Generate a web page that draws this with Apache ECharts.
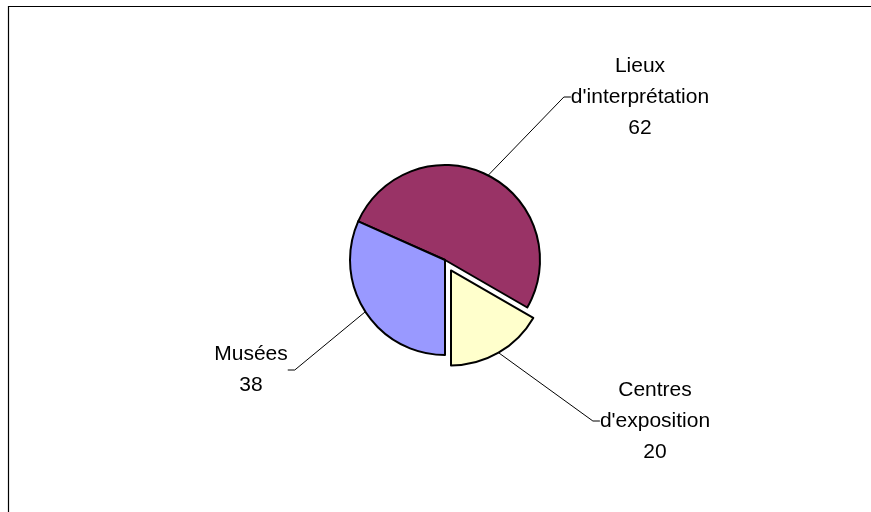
<!DOCTYPE html>
<html>
<head>
<meta charset="utf-8">
<script src="https://cdn.jsdelivr.net/npm/echarts@6/dist/echarts.min.js"></script>
<style>
  html, body { margin: 0; padding: 0; background: #fff; }
  #main { width: 871px; height: 512px; }
</style>
</head>
<body>
<div id="main"></div>
<script>
// données du graphique
var categories = ["Lieux d'interprétation", "Centres d'exposition", "Musées"];
var values = [62, 20, 38];
var colors = ["#993366", "#ffffcc", "#9999ff"];
var exploded = [false, true, false];
// position du centre de chaque étiquette (px)
var labelPos = [[640, 97], [655, 421], [251, 370]];

var pieCenter = [445, 260];
var pieRadius = 95;
var explodeOffset = 12;
var startAngle = 156;

var chart = echarts.init(document.getElementById("main"));

// angle médian de la part éclatée, pour décaler son centre
function explodedCenter() {
  var total = values.reduce(function (a, b) { return a + b; }, 0);
  var acc = 0;
  for (let i = 0; i < values.length; i++) {
    if (exploded[i]) {
      var mid = startAngle - ((acc + values[i] / 2) / total) * 360;
      var rad = (mid * Math.PI) / 180;
      return [
        pieCenter[0] + explodeOffset * Math.cos(rad),
        pieCenter[1] - explodeOffset * Math.sin(rad),
      ];
    }
    acc += values[i];
  }
  return pieCenter;
}

function buildData(wantExploded) {
  var list = [];
  for (let i = 0; i < categories.length; i++) {
    var visible = exploded[i] == wantExploded;
    list.push({
      name: categories[i],
      value: values[i],
      itemStyle: visible
        ? { color: colors[i], borderColor: "#000", borderWidth: 2 }
        : { color: "rgba(0,0,0,0)", borderWidth: 0 },
      label: { show: visible },
      labelLine: { show: visible },
    });
  }
  return list;
}

var pieBase = {
  type: "pie",
  radius: [0, pieRadius],
  startAngle: startAngle,
  clockwise: true,
  avoidLabelOverlap: false,
  label: {
    position: "outside",
    color: "#000",
    fontFamily: "Arial, 'Liberation Sans', sans-serif",
    fontSize: 21,
    lineHeight: 31,
    align: "center",
    formatter: function (p) {
      return p.name.replace(" ", "\n") + "\n" + p.value;
    },
  },
  labelLine: {
    length: 10,
    length2: 7,
    lineStyle: { color: "#000", width: 1 },
  },
  labelLayout: function (params) {
    var pos = labelPos[params.dataIndex];
    return {
      x: pos[0],
      y: pos[1],
      align: "center",
      verticalAlign: "middle",
    };
  },
  emphasis: { disabled: true },
  silent: true,
};

var option = {
  animation: false,
  graphic: [
    {
      type: "rect",
      shape: { x: 8.5, y: 6.5, width: 900, height: 600 },
      style: { fill: "none", stroke: "#000", lineWidth: 1.2 },
      silent: true,
    },
  ],
  series: [
    Object.assign({}, pieBase, {
      center: pieCenter,
      data: buildData(false),
    }),
    Object.assign({}, pieBase, {
      center: explodedCenter(),
      data: buildData(true),
    }),
  ],
};

chart.setOption(option);
</script>
</body>
</html>
